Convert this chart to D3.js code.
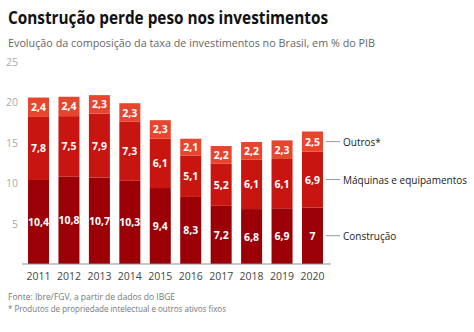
<!DOCTYPE html>
<head>
  <meta charset="utf-8" />
  <script src="https://cdn.jsdelivr.net/npm/d3@7"></script>
  <style>
    body { margin: 0; background: #fff; font-family: "Open Sans", sans-serif; }
    svg { display: block; }
  </style>
</head>
<body>
  <svg width="474" height="332"></svg>
  <script>
    // data (% do PIB)
    const years = ["2011","2012","2013","2014","2015","2016","2017","2018","2019","2020"];
    const construcao = [10.4,10.8,10.7,10.3,9.4,8.3,7.2,6.8,6.9,7];
    const maquinas = [7.8,7.5,7.9,7.3,6.1,5.1,5.2,6.1,6.1,6.9];
    const outros = [2.4,2.4,2.3,2.3,2.3,2.1,2.2,2.2,2.3,2.5];
    const seriesNames = ["Construção","Máquinas e equipamentos","Outros*"];
    const colors = ["#9a0006","#c8150f","#e8452f"];
    const yTicks = [5,10,15,20,25];

    const svg = d3.select("svg");

    svg.append("text").attr("x",8).attr("y",24)
      .attr("font-size",18).attr("font-weight",700).attr("fill","#111")
      .attr("textLength",320).attr("lengthAdjust","spacingAndGlyphs")
      .text("Construção perde peso nos investimentos");
    svg.append("text").attr("x",8).attr("y",47)
      .attr("font-size",11.5).attr("fill","#666")
      .attr("textLength",367).attr("lengthAdjust","spacingAndGlyphs")
      .text("Evolução da composição da taxa de investimentos no Brasil, em % do PIB");

    const table = years.map((y,i)=>({year:y, c:construcao[i], m:maquinas[i], o:outros[i]}));
    const stack = d3.stack().keys(["c","m","o"])(table);

    const x = d3.scaleBand().domain(years).range([23.3,327.7])
      .paddingInner(0.31).paddingOuter(0.155);
    const y = d3.scaleLinear().domain([0,25]).range([264,62]);

    // y tick labels
    svg.append("g").selectAll("text").data(yTicks).enter().append("text")
      .attr("x",18).attr("y",d=>y(d)+4).attr("text-anchor","end")
      .attr("font-size",10.5).attr("fill","#aaa").text(d=>d);

    const layers = svg.append("g").selectAll("g").data(stack).enter().append("g")
      .attr("fill",(d,i)=>colors[i]);
    layers.selectAll("rect").data(d=>d).enter().append("rect")
      .attr("x",d=>x(d.data.year))
      .attr("y",d=>y(d[1]))
      .attr("width",x.bandwidth())
      .attr("height",d=>y(d[0])-y(d[1]));
    layers.selectAll("text").data(d=>d.map(v=>({v:v, val:v[1]-v[0]}))).enter().append("text")
      .attr("x",d=>x(d.v.data.year)+x.bandwidth()/2)
      .attr("y",d=>(y(d.v[0])+y(d.v[1]))/2+4)
      .attr("text-anchor","middle").attr("font-size",10.5).attr("font-weight",700)
      .attr("fill","#fff")
      .text(d=>String(Math.round(d.val*10)/10).replace(".",","));

    // baseline + x axis
    const xAxis = d3.axisBottom(x).tickSize(0).tickPadding(9);
    const gx = svg.append("g").attr("transform","translate(0,264)").call(xAxis);
    gx.select(".domain").attr("d","M22,0H331").attr("stroke","#8a949c").attr("stroke-width",1.2);
    gx.selectAll("text").attr("font-size",10.5).attr("fill","#444")
      .attr("font-family","'Open Sans', sans-serif");

    // legend on the right, aligned with the last bar
    const last = stack.map(s=>s[s.length-1]);
    const lx = x(years[years.length-1]) + x.bandwidth();
    const leg = svg.append("g").selectAll("g").data(last).enter().append("g")
      .attr("transform",d=>`translate(${lx},${(y(d[0])+y(d[1]))/2})`);
    leg.append("line").attr("x1",3).attr("x2",17).attr("stroke","#999");
    leg.append("text").attr("x",20).attr("y",4).attr("font-size",10).attr("fill","#222")
      .text((d,i)=>seriesNames[i]);

    svg.append("text").attr("x",8).attr("y",300).attr("font-size",8.5).attr("fill","#777")
      .text("Fonte: Ibre/FGV, a partir de dados do IBGE");
    svg.append("text").attr("x",8).attr("y",312).attr("font-size",8.5).attr("fill","#777")
      .attr("textLength",218).attr("lengthAdjust","spacingAndGlyphs")
      .text("* Produtos de propriedade intelectual e outros ativos fixos");
  </script>
</body>
